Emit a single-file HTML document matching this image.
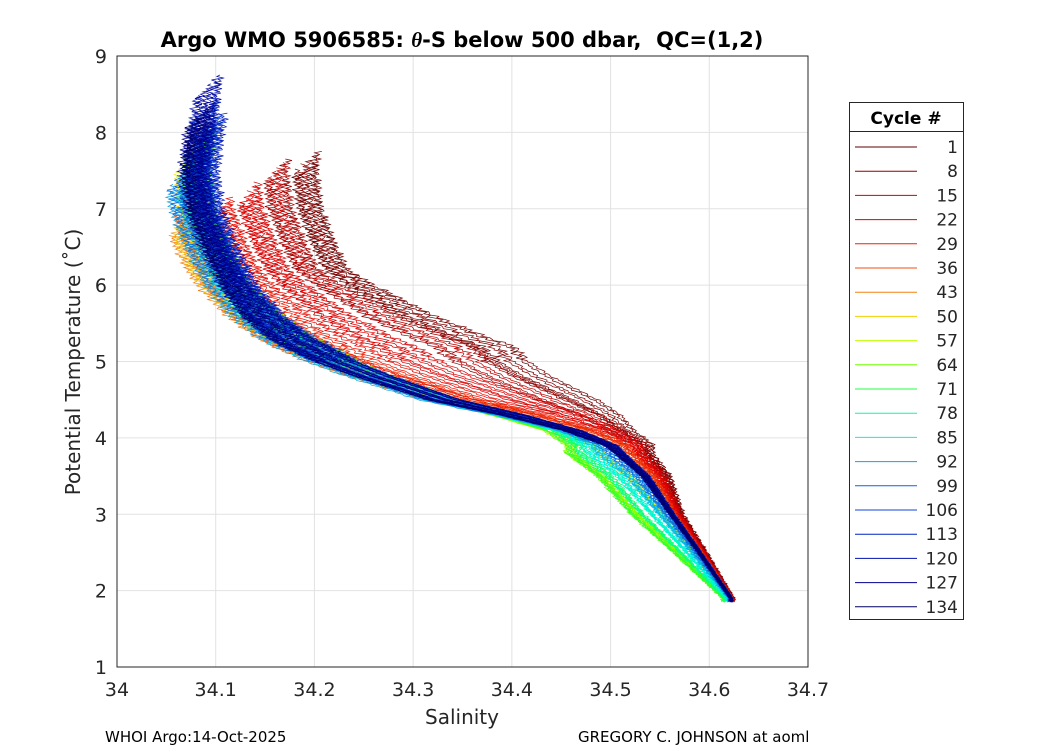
<!DOCTYPE html>
<html><head><meta charset="utf-8"><style>
body{margin:0;background:#fff;}
svg{display:block;font-family:"DejaVu Sans","Liberation Sans",sans-serif;}
</style></head><body>
<svg id="chart" width="1050" height="750">
<rect width="1050" height="750" fill="#fff"/>
<text x="462" y="47" text-anchor="middle" font-size="21" font-weight="bold" xml:space="preserve">Argo WMO 5906585: <tspan font-style="italic" font-family="Liberation Serif,serif">θ</tspan>-S below 500 dbar,  QC=(1,2)</text>
<g id="grid"></g>
<g id="plot"></g>
<rect x="117" y="56" width="691" height="611" fill="none" stroke="#262626" stroke-width="1"/>
<g id="ticks"></g>
<text x="462" y="724" text-anchor="middle" font-size="20" fill="#262626">Salinity</text>
<text transform="translate(80,362) rotate(-90)" text-anchor="middle" font-size="20" fill="#262626">Potential Temperature (˚C)</text>
<text x="105" y="742" font-size="15">WHOI Argo:14-Oct-2025</text>
<text x="578" y="742" font-size="15">GREGORY C. JOHNSON at aoml</text>
<g id="legend">
<rect x="849.5" y="102.5" width="114" height="517" fill="#fff" stroke="#262626"/>
<line x1="849.5" x2="963.5" y1="131.5" y2="131.5" stroke="#262626"/>
<text x="906" y="124" text-anchor="middle" font-size="17" font-weight="bold">Cycle #</text>
</g>
</svg>
<script>
const legendCycles=[1,8,15,22,29,36,43,50,57,64,71,78,85,92,99,106,113,120,127,134];
const legendColors=["#600000","#900000","#d00000","#e00000","#f02000","#f05010","#f08010","#f0d000","#c0ff00","#70ff00","#20ff40","#00ffa0","#00f0f0","#10a0e0","#1060e0","#1040e0","#0020c0","#0010b0","#000090","#000060"];
const xTicks=[34,34.1,34.2,34.3,34.4,34.5,34.6,34.7];
const yTicks=[1,2,3,4,5,6,7,8,9];
const baseT=[1.9,2.5,3.0,3.5,3.9,4.1,4.3,4.5,4.8,5.0,5.3,5.6,6.0,6.5,7.0,7.5,8.0,8.9];
const baseS=[34.622,34.59,34.562,34.535,34.50,34.46,34.40,34.33,34.26,34.22,34.175,34.145,34.12,34.10,34.085,34.08,34.085,34.095];
const offDeep=[0.01,0.008,0.006,0.004,0.002,0,0,-0.01,-0.035,-0.04,-0.03,-0.02,-0.012,-0.006,0,0,0,0,0,0];
const offKnee=[0.03,0.025,0.02,0.015,0.01,0,0,-0.02,-0.05,-0.05,-0.04,-0.03,-0.02,-0.01,0,0,0,0,0,0];
const offKnee2=[0.055,0.045,0.04,0.025,0.015,0,0,-0.01,-0.02,-0.02,-0.015,-0.01,-0.008,-0.005,0,0,0,0,0,0];
const offMid=[0.14,0.11,0.08,0.04,0.02,0,-0.005,0,0,0,0,-0.005,-0.005,-0.01,0,0,0,0,0,0];
const offMid2=[0.19,0.15,0.09,0.04,0.01,-0.01,-0.01,0,0.005,0,0,0,-0.005,-0.01,0.005,0,0,0,0,0];
const offUp=[0.11,0.08,0.05,0.02,0,-0.02,-0.03,-0.01,0,0,0,-0.005,-0.01,-0.02,0.005,0,0.01,0,-0.005,0];
const groupTop=[7.6,7.5,7.2,7.0,6.9,7.0,6.8,7.6,7.9,7.9,7.7,7.6,7.4,7.4,8.1,8.3,8.1,8.6,8.2,8.1];
const cycleJitter=[0,-0.01,0.008,-0.005,0.011,0.003,-0.007];
const wiggle=[0.001,-0.0015,0.002,0.0005,-0.002,0.0015,-0.0005,0.0025,-0.001,0.0,-0.0025,0.0015,0.001,-0.001,0.002,-0.0015,0.0005,0.0015,-0.002,0.001,-0.0005,0.002,-0.0015,0.0];

const X0=117,X1=808,Y0=667,Y1=56;
const xs=s=>X0+(s-34)/0.7*(X1-X0);
const ys=t=>Y0-(t-1)/8*(Y0-Y1);
const NS="http://www.w3.org/2000/svg";
function interp(xa,ya,x){if(x<=xa[0])return ya[0];for(let i=1;i<xa.length;i++){if(x<=xa[i]){const f=(x-xa[i-1])/(xa[i]-xa[i-1]);return ya[i-1]+f*(ya[i]-ya[i-1]);}}return ya[ya.length-1];}
function hex(c){return [1,3,5].map(i=>parseInt(c.substr(i,2),16));}
function colorFor(c){for(let i=1;i<legendCycles.length;i++){if(c<=legendCycles[i]){const f=(c-legendCycles[i-1])/(legendCycles[i]-legendCycles[i-1]);const a=hex(legendColors[i-1]),b=hex(legendColors[i]);return "rgb("+a.map((v,k)=>Math.round(v+f*(b[k]-v))).join(",")+")";}}return legendColors[legendColors.length-1];}

const grid=document.getElementById('grid'),ticks=document.getElementById('ticks');
xTicks.forEach(v=>{const x=xs(v);
 const l=document.createElementNS(NS,'line');l.setAttribute('x1',x);l.setAttribute('x2',x);l.setAttribute('y1',Y1);l.setAttribute('y2',Y0);l.setAttribute('stroke','#e2e2e2');
 
 grid.appendChild(l);
 const t=document.createElementNS(NS,'text');t.setAttribute('x',x);t.setAttribute('y',696);t.setAttribute('text-anchor','middle');t.setAttribute('font-size','19');t.setAttribute('fill','#262626');t.textContent=v;
 
 ticks.appendChild(t);});
yTicks.forEach(v=>{const y=ys(v);
 const l=document.createElementNS(NS,'line');l.setAttribute('x1',X0);l.setAttribute('x2',X1);l.setAttribute('y1',y);l.setAttribute('y2',y);l.setAttribute('stroke','#e2e2e2');
 
 grid.appendChild(l);
 const t=document.createElementNS(NS,'text');t.setAttribute('x',107);t.setAttribute('y',y+7);t.setAttribute('text-anchor','end');t.setAttribute('font-size','19');t.setAttribute('fill','#262626');t.textContent=v;
 
 ticks.appendChild(t);});

const plot=document.getElementById('plot');
const offT=[1.9,3.0,3.8,4.1,4.5,5.2,6.2,9];
for(let c=1;c<=134;c++){
 const g=Math.min(19,Math.floor((c-1)/7));
 const j=cycleJitter[c%7];
 const top=groupTop[g]+j*15;
 const offV=[offDeep[g]*0.2,offDeep[g]+j*0.15,offKnee[g]+j*0.4,offKnee2[g]+j*0.8,offMid[g]+j*1.5,offMid2[g]+j*2,offUp[g]+j,offUp[g]+j];
 let d="";let k=0;
 for(let T=1.85+Math.abs(j)*2;T<=top;T+=0.02,k++){
  const w=wiggle[(k+c*5)%wiggle.length]*(T>5?2:1);
  const S=interp(baseT,baseS,T)+interp(offT,offV,T)+w;
  d+=(d?"L":"M")+xs(S).toFixed(1)+","+ys(T).toFixed(1);
 }
 const p=document.createElementNS(NS,'path');p.setAttribute('d',d);p.setAttribute('fill','none');p.setAttribute('stroke',colorFor(c));p.setAttribute('stroke-width','0.7');
 
 plot.appendChild(p);
}

const lg=document.getElementById('legend');
legendCycles.forEach((c,i)=>{const y=147+i*24.2;
 const l=document.createElementNS(NS,'line');l.setAttribute('x1',855);l.setAttribute('x2',917);l.setAttribute('y1',y);l.setAttribute('y2',y);l.setAttribute('stroke',legendColors[i]);
 
 lg.appendChild(l);
 const t=document.createElementNS(NS,'text');t.setAttribute('x',958);t.setAttribute('y',y+6);t.setAttribute('text-anchor','end');t.setAttribute('font-size','17');t.setAttribute('fill','#262626');t.textContent=c;
 
 lg.appendChild(t);});
</script>
</body></html>
